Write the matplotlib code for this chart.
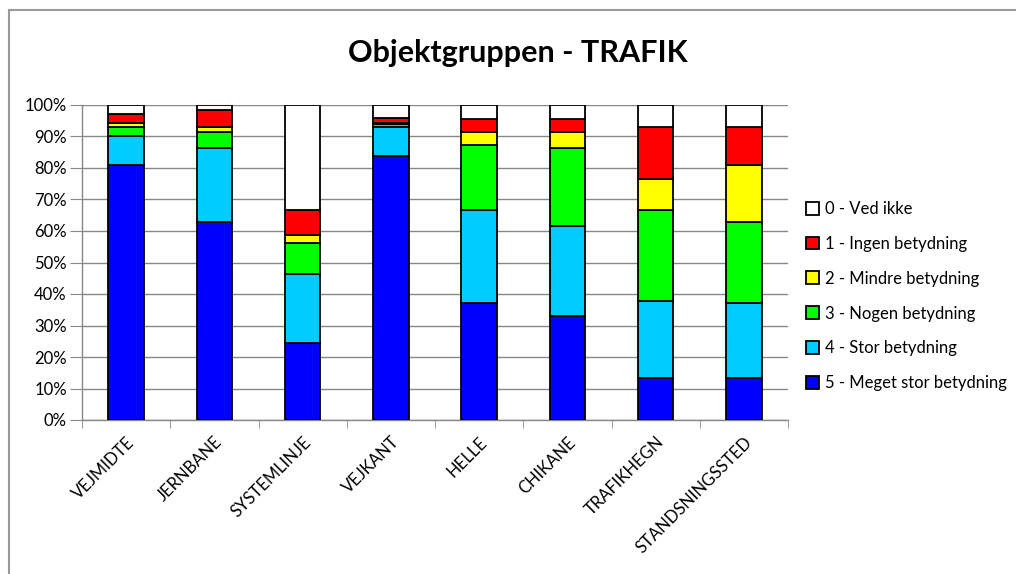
import matplotlib
matplotlib.use("Agg")
import matplotlib.pyplot as plt
import numpy as np
from matplotlib.patches import Rectangle

plt.rcParams['font.family'] = ['Lato', 'DejaVu Sans']

categories = ["VEJMIDTE", "JERNBANE", "SYSTEMLINJE", "VEJKANT", "HELLE",
              "CHIKANE", "TRAFIKHEGN", "STANDSNINGSSTED"]

s5_meget_stor = [81.0, 62.8, 24.5, 83.7, 37.0, 32.9, 13.3, 13.3]
s4_stor = [9.0, 23.6, 21.8, 9.2, 29.8, 28.8, 24.6, 23.7]
s3_nogen = [3.0, 5.1, 9.8, 1.2, 20.4, 24.7, 28.9, 25.7]
s2_mindre = [1.2, 1.4, 2.7, 0.3, 4.3, 5.1, 9.8, 18.2]
s1_ingen = [3.0, 5.6, 8.0, 1.5, 4.2, 4.2, 16.3, 12.0]
s0_ved_ikke = [2.8, 1.5, 33.2, 4.1, 4.3, 4.3, 7.1, 7.1]

series_labels = ["5 - Meget stor betydning", "4 - Stor betydning", "3 - Nogen betydning",
                 "2 - Mindre betydning", "1 - Ingen betydning", "0 - Ved ikke"]
series_values = [s5_meget_stor, s4_stor, s3_nogen, s2_mindre, s1_ingen, s0_ved_ikke]
series_colors = ["#0000FF", "#00CCFF", "#00FF00", "#FFFF00", "#FF0000", "#FFFFFF"]

W, H = 1016, 574
fig = plt.figure(figsize=(W / 100, H / 100), dpi=100)

# axes placement in pixels
left, right, top, bottom = 82, 788, 105, 420
ax = fig.add_axes([left / W, 1 - bottom / H, (right - left) / W, (bottom - top) / H])

x = np.arange(len(categories))
base = np.zeros(len(categories))
handles = []
for vals, lab, col in zip(series_values, series_labels, series_colors):
    v = np.array(vals)
    b = ax.bar(x, v, width=0.4, bottom=base, color=col, edgecolor="black",
               linewidth=1.3, label=lab, zorder=3)
    handles.append(b)
    base += v

ax.set_xlim(-0.5, len(categories) - 0.5)
ax.set_ylim(0, 100)
ax.set_yticks(np.arange(0, 101, 10))
ax.set_yticklabels([f"{t}%" for t in range(0, 101, 10)], fontsize=12)
ax.yaxis.grid(True, color="#888888", linewidth=1.0, zorder=0)
ax.set_axisbelow(True)

ax.set_xticks(x)
ax.set_xticklabels(categories, rotation=45, ha="right", rotation_mode="anchor", fontsize=12)
ax.set_xticks(np.arange(-0.5, len(categories), 1), minor=True)
ax.tick_params(axis="x", which="major", length=0, pad=10)
ax.tick_params(axis="x", which="minor", length=6, color="#888888", direction="out")
ax.tick_params(axis="y", length=9, color="#888888", direction="out", pad=2)

for side in ["top", "right"]:
    ax.spines[side].set_visible(False)
for side in ["left", "bottom"]:
    ax.spines[side].set_color("#888888")
    ax.spines[side].set_linewidth(1.0)

fig.text(518 / W, 1 - 53 / H, "Objektgruppen - TRAFIK", ha="center", va="center",
         fontsize=22, fontweight="bold")

leg = fig.legend(handles[::-1], series_labels[::-1], loc="upper left",
                 bbox_to_anchor=(791 / W, 1 - 186 / H), frameon=False, fontsize=12,
                 handlelength=0.8, handleheight=0.8, handletextpad=0.35, labelspacing=1.13)

# chart border
fig.add_artist(Rectangle((8.5 / W, -0.05), 1.2, 1 - 9.5 / H + 0.05, transform=fig.transFigure,
                         fill=False, edgecolor="#999999", linewidth=1.5))

fig.savefig("out.png", dpi=100)
